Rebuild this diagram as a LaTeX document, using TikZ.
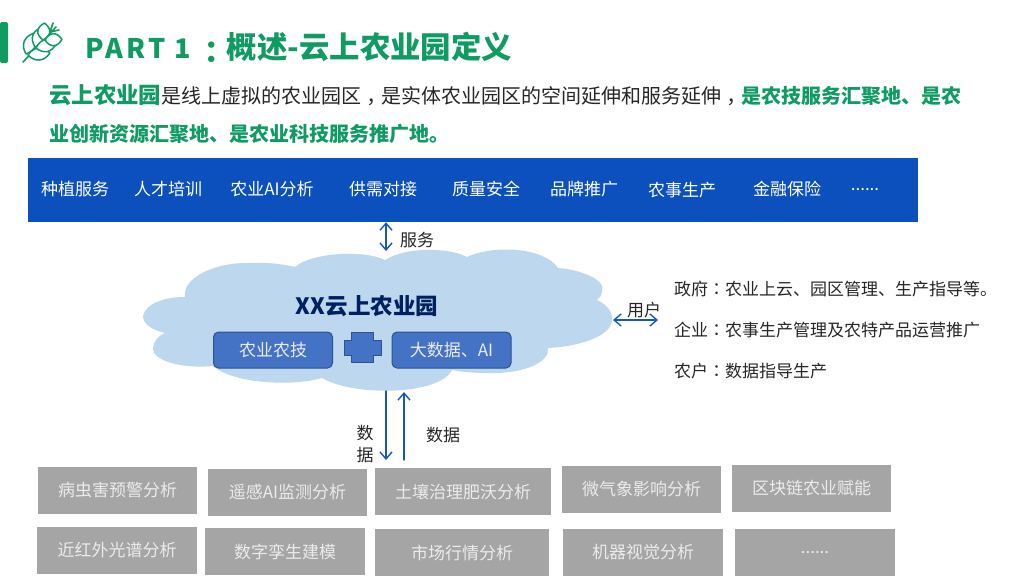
\documentclass[tikz,border=0pt]{standalone}
\usepackage{fontspec}
\setmainfont{Noto Sans CJK SC}
\newfontfamily\pun{Noto Sans CJK TC}
\usetikzlibrary{arrows.meta}
\definecolor{agrigreen}{HTML}{109B63}
\definecolor{barblue}{HTML}{0B50BD}
\definecolor{arrowblue}{HTML}{1558C0}
\definecolor{cloudblue}{HTML}{BDD7EE}
\definecolor{chipblue}{HTML}{4472C4}
\definecolor{chipedge}{HTML}{2F528F}
\definecolor{navyblue}{HTML}{002060}
\definecolor{tilegray}{HTML}{A5A5A5}
\newcommand{\fs}[1]{\fontsize{#1}{#1}\selectfont}
\newcommand{\lowpun}[2]{\smash{\raisebox{#1}{\pun #2}}}
\tikzset{
  graybox/.style={fill=tilegray,text=white!92!black,inner sep=0pt,minimum height=47,font=\fs{17}},
  baritem/.style={text=white,inner sep=0pt,font=\fs{17}},
  chip/.style={draw=chipedge,line width=1pt,fill=chipblue,rounded corners=5,text=white!92!black,minimum width=119,minimum height=36,inner sep=0pt,font=\fs{17}},
  plainlabel/.style={inner sep=0pt,text=black!85,font=\fs{17}},
  link/.style={draw=arrowblue,line width=1.4pt,-{Straight Barb[length=7pt,width=12pt]}},
  twolink/.style={draw=arrowblue,line width=1.4pt,{Straight Barb[length=7pt,width=12pt]}-{Straight Barb[length=7pt,width=12pt]}}
}
\begin{document}
\begin{tikzpicture}[x=1pt,y=-1pt,line cap=round,line join=round]
  \useasboundingbox (0,0) rectangle (1024,576);
  \fill[white] (0,0) rectangle (1024,576);

  \fill[agrigreen,rounded corners=2] (0,22) rectangle (8,63);
  \draw[agrigreen,line width=1.6pt] (23,62) -- (56,27) (50,32) -- (53,23) (50,32) -- (59,30);
  \foreach \px/\py/\ang/\len in {26/54/70/22,35/47/70/21,43/40/85/17,28/55/5/22,36/48/13/21,45/40/2/17}
    \draw[agrigreen,line width=1.5pt,fill=white,shift={(\px,\py)},rotate=\ang,x=\len pt]
      (0,0) .. controls (0.3,-8) and (0.7,-8) .. (1,0) .. controls (0.7,8) and (0.3,8) .. (0,0);

  \node[anchor=west,inner sep=0pt,text=agrigreen,font=\fs{30.4}\bfseries] (title) at (85,47)
    {{\fs{27}\addfontfeature{LetterSpace=12}PART 1}\hspace{5pt}\lowpun{-0.15em}{：}概述-云上农业园定义};
  \node[anchor=west,inner sep=0pt,text=black!85,font=\fs{20}] (introa) at (49,95)
    {{\fs{22.4}\bfseries\color{agrigreen}云上农业园}是线上虚拟的农业园区\lowpun{-0.3em}{，}是实体农业园区的空间延伸和服务延伸\lowpun{-0.3em}{，}{\bfseries\color{agrigreen}是农技服务汇聚地、是农}};
  \node[anchor=west,inner sep=0pt,text=agrigreen,font=\fs{20}\bfseries] (introb) at (49,134)
    {业创新资源汇聚地、是农业科技服务推广地。};

  \node[fill=barblue,inner sep=0pt,minimum width=890,minimum height=64] (bar) at (473,190) {};
  \node[baritem] (zhongzhi) at (75,189) {种植服务};
  \node[baritem] (rencai) at (168,189) {人才培训};
  \node[baritem] (fenxi) at (272,189) {农业AI分析};
  \node[baritem] (gongxu) at (383,189) {供需对接};
  \node[baritem] (zhiliang) at (486,189) {质量安全};
  \node[baritem] (pinpai) at (584,189) {品牌推广};
  \node[baritem] (nongshi) at (682,190) {农事生产};
  \node[baritem] (jinrong) at (787,189) {金融保险};
  \node[baritem] (more) at (865,190) {......};

  \fill[cloudblue] (143,316) .. controls (146,303) and (165,297) .. (185,297)
    .. controls (182,280) and (210,263) .. (247,263)
    .. controls (265,262) and (283,264) .. (295,267)
    .. controls (312,252) and (365,250) .. (385,260)
    .. controls (405,247) and (448,247) .. (467,257)
    .. controls (495,244) and (545,248) .. (558,268)
    .. controls (585,270) and (606,282) .. (602,290)
    .. controls (602,295) and (600,298) .. (597,300)
    .. controls (606,304) and (613,312) .. (612,320)
    .. controls (612,334) and (585,346) .. (548,348)
    .. controls (550,362) and (525,374) .. (487,373)
    .. controls (475,373) and (462,372) .. (452,370)
    .. controls (440,395) and (355,397) .. (322,378)
    .. controls (290,387) and (232,383) .. (213,366)
    .. controls (180,369) and (153,360) .. (153,349)
    .. controls (153,342) and (158,336) .. (165,333)
    .. controls (152,330) and (143,324) .. (143,316) -- cycle;

  \node[inner sep=0pt,text=navyblue,font=\fs{22.5}\bfseries] (yuan) at (367,306) {XX云上农业园};
  \node[chip] (nongji) at (273,350) {农业农技};
  \node[chip] (dashuju) at (451.5,350) {大数据、AI};
  \draw[chipedge,line width=1pt,fill=chipblue] (351,332) -- (373,332) -- (373,340) -- (381,340) -- (381,355)
    -- (373,355) -- (373,362) -- (351,362) -- (351,355) -- (344,355) -- (344,340) -- (351,340) -- cycle;

  \node[graybox,minimum width=159] (binghai) at (117.5,490.5) {病虫害预警分析};
  \node[graybox,minimum width=159] (yaogan) at (287.5,492.5) {遥感AI监测分析};
  \node[graybox,minimum width=176] (turang) at (463,491.5) {土壤治理肥沃分析};
  \node[graybox,minimum width=159] (qixiang) at (641.5,489.5) {微气象影响分析};
  \node[graybox,minimum width=159] (qukuai) at (811.5,488.5) {区块链农业赋能};
  \node[graybox,minimum width=160] (guangpu) at (117,550.5) {近红外光谱分析};
  \node[graybox,minimum width=160] (luansheng) at (285,551.5) {数字孪生建模};
  \node[graybox,minimum width=174] (hangqing) at (462,552.5) {市场行情分析};
  \node[graybox,minimum width=160] (shijue) at (643,552.5) {机器视觉分析};
  \node[graybox,minimum width=160] (qita) at (815,552.5) {......};

  \node[plainlabel] (fuwu) at (417,240) {服务};
  \node[plainlabel] (yonghu) at (644,310) {用户};
  \node[plainlabel] (shu) at (365,433) {数};
  \node[plainlabel] (ju) at (365,455) {据};
  \node[plainlabel] (shuju) at (443,435) {数据};
  \node[plainlabel,anchor=west] (zhengfu) at (674,289) {政府{\pun ：}农业上云、园区管理、生产指导等。};
  \node[plainlabel,anchor=west] (qiye) at (674,330) {企业{\pun ：}农事生产管理及农特产品运营推广};
  \node[plainlabel,anchor=west] (nonghu) at (674,371) {农户{\pun ：}数据指导生产};

  \coordinate (cloudtop) at (386,251);
  \coordinate (cloudright) at (613,320);
  \coordinate (userend) at (658,320);
  \coordinate (cloudlow) at (386,391);
  \coordinate (cloudup) at (404,392);
  \coordinate (soildown) at (386,460);
  \coordinate (soilup) at (404,468);

  \draw[twolink] (bar.south -| cloudtop) -- (cloudtop);
  \draw[twolink] (cloudright) -- (userend);
  \draw[link] (cloudlow) -- (soildown);
  \draw[link] (soilup |- soildown) -- (cloudup);
\end{tikzpicture}
\end{document}
